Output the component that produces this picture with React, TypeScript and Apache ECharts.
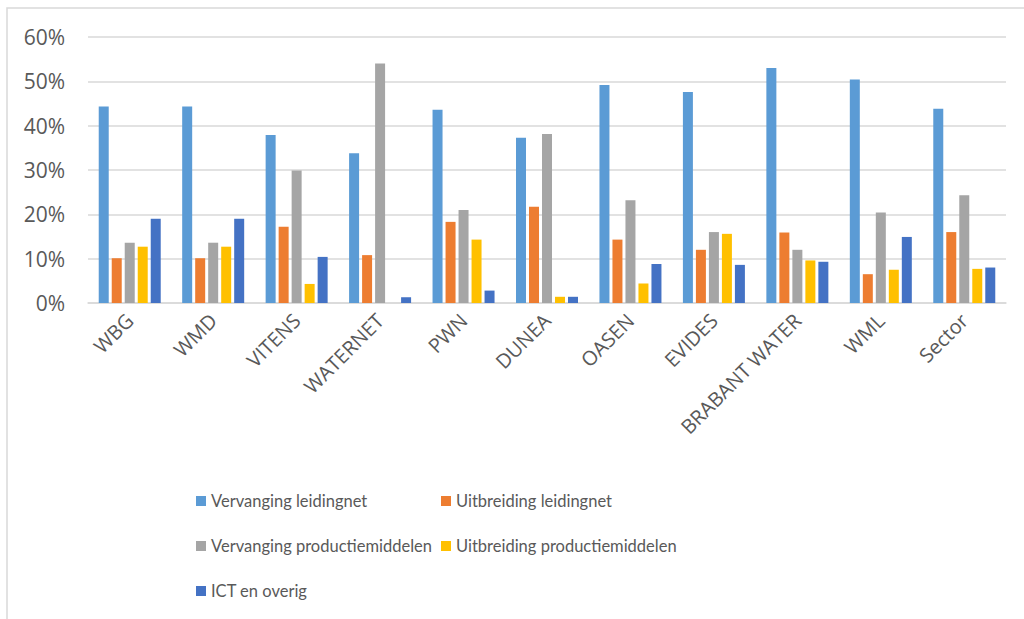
import React, { useEffect, useRef } from "react";
import * as echarts from "echarts";

const categories = ["WBG", "WMD", "VITENS", "WATERNET", "PWN", "DUNEA", "OASEN", "EVIDES", "BRABANT WATER", "WML", "Sector"];
const seriesNames = [
  "Vervanging leidingnet",
  "Uitbreiding leidingnet",
  "Vervanging productiemiddelen",
  "Uitbreiding productiemiddelen",
  "ICT en overig",
];
const vervangingLeidingnet = [44.3, 44.3, 37.9, 33.8, 43.6, 37.3, 49.2, 47.6, 53.0, 50.4, 43.8];
const uitbreidingLeidingnet = [10.1, 10.1, 17.2, 10.8, 18.3, 21.7, 14.3, 12.0, 15.9, 6.5, 16.0];
const vervangingProductiemiddelen = [13.6, 13.6, 29.9, 54.0, 21.0, 38.1, 23.2, 16.0, 12.0, 20.4, 24.3];
const uitbreidingProductiemiddelen = [12.7, 12.7, 4.3, 0, 14.3, 1.4, 4.4, 15.6, 9.6, 7.5, 7.7];
const ictEnOverig = [19.0, 19.0, 10.4, 1.3, 2.8, 1.4, 8.8, 8.6, 9.3, 14.9, 8.0];
const yTicks = [0, 10, 20, 30, 40, 50, 60];

const colors = ["#5B9BD5", "#ED7D31", "#A5A5A5", "#FFC000", "#4472C4"];
const allValues = [vervangingLeidingnet, uitbreidingLeidingnet, vervangingProductiemiddelen, uitbreidingProductiemiddelen, ictEnOverig];

const FONT = "'Open Sans', 'Noto Sans', sans-serif";
const LEGEND_FONT = "Lato, 'Open Sans', sans-serif";

export default function App() {
  const ref = useRef<HTMLDivElement>(null);
  useEffect(() => {
    document.body.style.margin = "0";
    const chart = echarts.init(ref.current!, undefined, { renderer: "svg" });
    const legendPos = [
      { left: 196, top: 491 },
      { left: 441, top: 491 },
      { left: 196, top: 536 },
      { left: 441, top: 536 },
      { left: 196, top: 581 },
    ];
    chart.setOption({
      animation: false,
      backgroundColor: "#ffffff",
      color: colors,
      graphic: [
        {
          type: "rect",
          shape: { x: 7, y: 8, width: 1030, height: 640 },
          style: { fill: "none", stroke: "#D9D9D9", lineWidth: 1.5 },
          silent: true,
        },
      ],
      legend: seriesNames.map((n, i) => ({
        data: [{ name: n, icon: "rect" }],
        left: legendPos[i].left,
        top: legendPos[i].top,
        padding: 0,
        itemWidth: 10,
        itemHeight: 10,
        selectedMode: false,
        textStyle: { fontFamily: LEGEND_FONT, fontSize: 16.5, color: "#595959", lineHeight: 20 },
      })),
      grid: { left: 88, right: 18, top: 37, bottom: 316, containLabel: false },
      xAxis: {
        type: "category",
        data: categories,
        axisLine: { lineStyle: { color: "#D9D9D9", width: 1.5 } },
        axisTick: { show: false },
        axisLabel: {
          interval: 0,
          rotate: 45,
          margin: 14,
          fontFamily: FONT,
          fontSize: 20,
          color: "#595959",
        },
      },
      yAxis: {
        type: "value",
        min: yTicks[0],
        max: yTicks[yTicks.length - 1],
        interval: 10,
        axisLine: { show: false },
        axisTick: { show: false },
        splitLine: { lineStyle: { color: "#D9D9D9", width: 1.5 } },
        axisLabel: {
          formatter: "{value}%",
          margin: 23,
          fontFamily: FONT,
          fontSize: 21,
          color: "#595959",
        },
      },
      series: seriesNames.map((n, i) => ({
        name: n,
        type: "bar",
        data: allValues[i],
        barWidth: 10,
        barGap: "30%",
        itemStyle: { color: colors[i] },
      })),
    });
    return () => chart.dispose();
  }, []);
  return <div ref={ref} style={{ position: "absolute", left: 0, top: 0, width: 1024, height: 619 }} />;
}
